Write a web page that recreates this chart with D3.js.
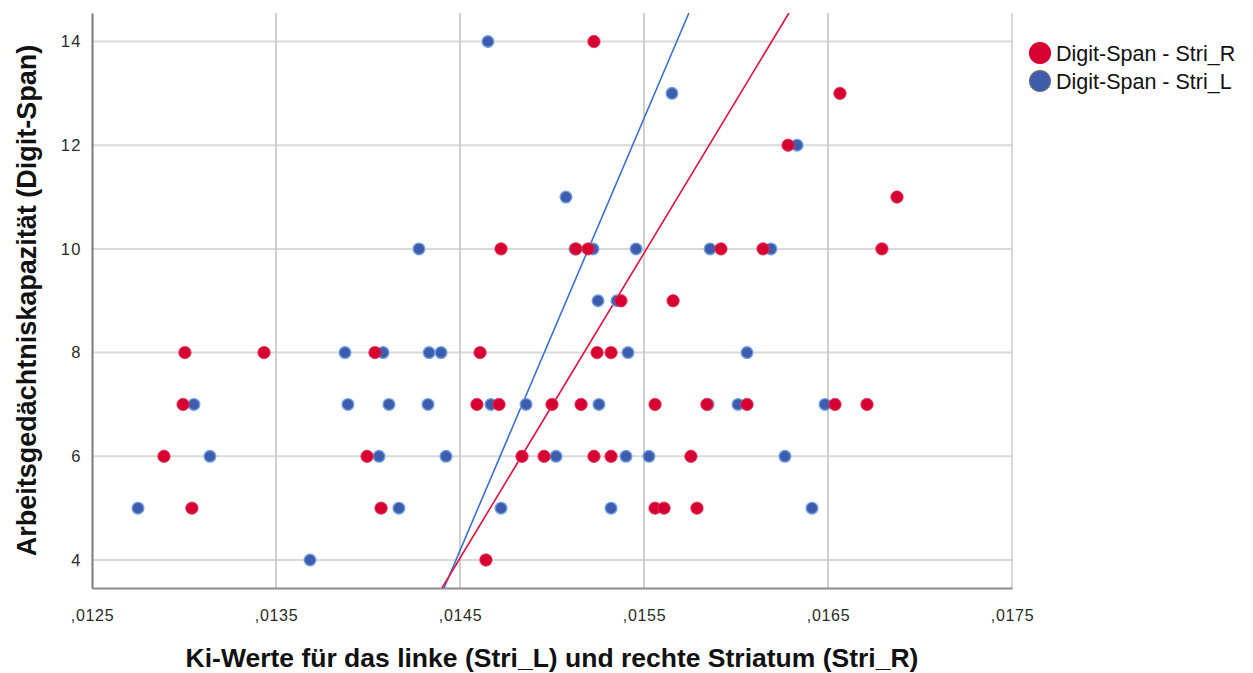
<!DOCTYPE html>
<html>
<head>
<meta charset="utf-8">
<script src="https://cdn.jsdelivr.net/npm/d3@7"></script>
<style>
  body { margin: 0; background: #fff; }
  text { font-family: Arial, "Liberation Sans", sans-serif; }
</style>
</head>
<body>
<svg id="chart" width="1253" height="673"></svg>
<script>
// Digit-Span vs. Ki values, right striatum (red) and left striatum (blue)
var striR = [
    [0.015228, 14], [0.016565, 13], [0.016283, 12], [0.016875, 11],
    [0.014723, 10], [0.015130, 10], [0.015196, 10], [0.015918, 10], [0.016147, 10], [0.016793, 10],
    [0.015375, 9], [0.015658, 9],
    [0.013005, 8], [0.013435, 8], [0.014038, 8], [0.014609, 8], [0.015245, 8], [0.015321, 8],
    [0.012995, 7], [0.014592, 7], [0.014712, 7], [0.015000, 7], [0.015158, 7],
    [0.015560, 7], [0.015842, 7], [0.016060, 7], [0.016538, 7], [0.016712, 7],
    [0.012891, 6], [0.013995, 6], [0.014837, 6], [0.014957, 6], [0.015228, 6], [0.015321, 6], [0.015755, 6],
    [0.013043, 5], [0.014071, 5], [0.015560, 5], [0.015609, 5], [0.015788, 5],
    [0.014641, 4]
];

var striL = [
    [0.014652, 14], [0.015652, 13], [0.016332, 12], [0.015076, 11],
    [0.014277, 10], [0.015125, 10], [0.015223, 10], [0.015457, 10], [0.015859, 10], [0.016190, 10],
    [0.015250, 9], [0.015353, 9],
    [0.013875, 8], [0.014082, 8], [0.014332, 8], [0.014397, 8], [0.015413, 8], [0.016060, 8],
    [0.013054, 7], [0.013891, 7], [0.014114, 7], [0.014326, 7], [0.014668, 7],
    [0.014859, 7], [0.015255, 7], [0.015848, 7], [0.016011, 7], [0.016484, 7],
    [0.013141, 6], [0.014060, 6], [0.014424, 6], [0.015022, 6], [0.015402, 6], [0.015527, 6], [0.016266, 6],
    [0.012750, 5], [0.014168, 5], [0.014723, 5], [0.015321, 5], [0.016413, 5],
    [0.013685, 4]
];

var fitR = [[0.014494, 4], [0.016194, 14]];
var fitL = [[0.014478, 4], [0.015678, 14]];

var xTicks = [0.0125, 0.0135, 0.0145, 0.0155, 0.0165, 0.0175];
var yTicks = [4, 6, 8, 10, 12, 14];

var seriesNames = ["Digit-Span - Stri_R", "Digit-Span - Stri_L"];

var svg = d3.select("#chart");

var x = d3.scaleLinear().domain([0.0125, 0.0175]).range([92, 1012]);
var y = d3.scaleLinear().domain([3.46, 14.55]).range([588, 13]);

var fmt = function(v){ return d3.format(".4f")(v).replace("0.", ","); };

// grid
svg.append("g").selectAll("line.h")
    .data(yTicks).enter().append("line")
    .attr("x1", x.range()[0]).attr("x2", x.range()[1])
    .attr("y1", function(d){ return y(d); })
    .attr("y2", function(d){ return y(d); })
    .style("stroke", "#d9d9d9")
    .style("stroke-width", 2);

svg.append("g").selectAll("line.v")
    .data(xTicks.slice(1)).enter().append("line")
    .attr("x1", function(d){ return x(d); })
    .attr("x2", function(d){ return x(d); })
    .attr("y1", y.range()[1]).attr("y2", y.range()[0])
    .style("stroke", function(d, i){ return i == xTicks.length - 2 ? "#d0d0d0" : "#c4c4c4"; })
    .style("stroke-width", 1.6);

// axes
var xAxis = svg.append("g")
    .attr("transform", "translate(0," + y.range()[0] + ")")
    .call(d3.axisBottom(x).tickValues(xTicks).tickFormat(fmt).tickSize(0).tickPadding(22));
xAxis.select(".domain").style("stroke", "#8c8c8c").style("stroke-width", 2);
xAxis.selectAll("text").style("font-size", "16px").style("fill", "#2a2a2a")
    .style("letter-spacing", "0.7px");

var yAxis = svg.append("g")
    .attr("transform", "translate(" + x.range()[0] + ",0)")
    .call(d3.axisLeft(y).tickValues(yTicks).tickSize(0).tickPadding(10));
yAxis.select(".domain").style("stroke", "#7a7a7a").style("stroke-width", 2);
yAxis.selectAll("text").style("font-size", "16.5px").style("fill", "#2a2a2a")
    .style("letter-spacing", "1.5px");

// axis titles
svg.append("text")
    .attr("x", (x.range()[0] + x.range()[1]) / 2)
    .attr("y", 667)
    .attr("text-anchor", "middle")
    .style("font-size", "26.5px")
    .style("font-weight", "bold")
    .style("fill", "#111")
    .text("Ki-Werte für das linke (Stri_L) und rechte Striatum (Stri_R)");

svg.append("text")
    .attr("transform", "translate(36," + (y.range()[0] + y.range()[1]) / 2 + ") rotate(-90)")
    .attr("text-anchor", "middle")
    .style("font-size", "27px")
    .style("font-weight", "bold")
    .style("fill", "#111")
    .text("Arbeitsgedächtniskapazität (Digit-Span)");

// fit lines, clipped to the plot area
svg.append("clipPath").attr("id", "plotClip")
    .append("rect")
    .attr("x", x.range()[0]).attr("y", y.range()[1])
    .attr("width", x.range()[1] - x.range()[0])
    .attr("height", y.range()[0] - y.range()[1]);

function extend(p){
    var k = (p[1][0] - p[0][0]) / (p[1][1] - p[0][1]);
    var d = y.domain();
    return [[p[0][0] + (d[0] - p[0][1]) * k, d[0]], [p[0][0] + (d[1] - p[0][1]) * k, d[1]]];
}

var line = d3.line().x(function(d){ return x(d[0]); }).y(function(d){ return y(d[1]); });

var fits = svg.append("g").attr("clip-path", "url(#plotClip)");
fits.append("path").attr("d", line(extend(fitL)))
    .style("fill", "none").style("stroke", "#3b6fd4").style("stroke-width", 1.6);
fits.append("path").attr("d", line(extend(fitR)))
    .style("fill", "none").style("stroke", "#e0103e").style("stroke-width", 1.6);

// points: blue first, red drawn over it
svg.append("g").selectAll("circle")
    .data(striL).enter().append("circle")
    .attr("cx", function(d){ return x(d[0]); })
    .attr("cy", function(d){ return y(d[1]); })
    .attr("r", 5.8)
    .style("fill", "#3d5cab")
    .style("stroke", "#6d9ee3")
    .style("stroke-width", 1.4);

svg.append("g").selectAll("circle")
    .data(striR).enter().append("circle")
    .attr("cx", function(d){ return x(d[0]); })
    .attr("cy", function(d){ return y(d[1]); })
    .attr("r", 6.2)
    .style("fill", "#d70032")
    .style("stroke", "#e23a5c")
    .style("stroke-width", 0.8);

// legend
var legend = svg.append("g");
var legendColors = [["#d70032", "#d70032"], ["#3d5cab", "#707070"]];
seriesNames.forEach(function(name, i){
    legend.append("circle")
        .attr("cx", 1040).attr("cy", 53 + i * 28)
        .attr("r", 10.5)
        .style("fill", legendColors[i][0])
        .style("stroke", legendColors[i][1])
        .style("stroke-width", 1.2);
    legend.append("text")
        .attr("x", 1056).attr("y", 61 + i * 28)
        .style("font-size", "21.5px")
        .style("fill", "#111")
        .text(name);
});
</script>
</body>
</html>
